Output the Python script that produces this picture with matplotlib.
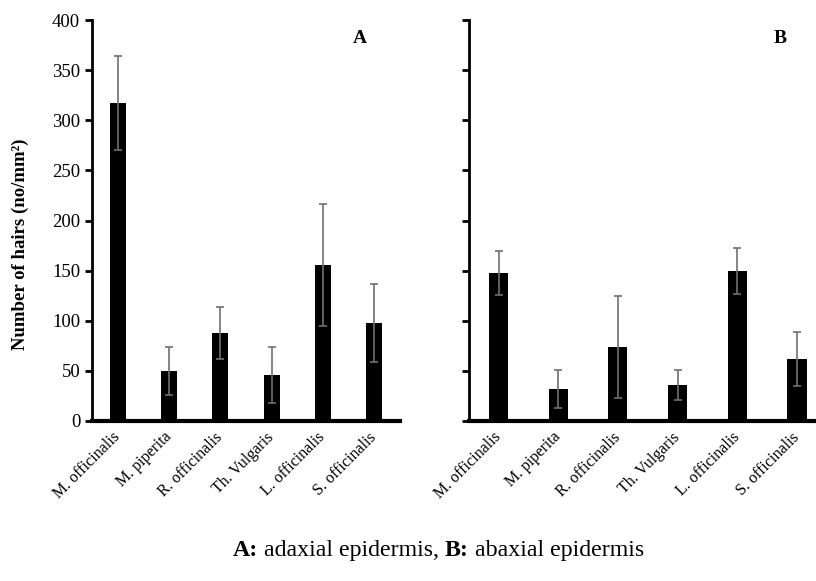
import numpy as np
import matplotlib.pyplot as plt

species = ["M. officinalis", "M. piperita", "R. officinalis",
           "Th. Vulgaris", "L. officinalis", "S. officinalis"]
# A: adaxial epidermis
adaxial = [317, 50, 88, 46, 156, 98]
adaxial_err = [47, 24, 26, 28, 61, 39]
# B: abaxial epidermis
abaxial = [148, 32, 74, 36, 150, 62]
abaxial_err = [22, 19, 51, 15, 23, 27]

plt.rcParams['font.family'] = ['Liberation Serif', 'DejaVu Serif']

fig = plt.figure(figsize=(8.16, 5.81), dpi=100)
axA = fig.add_axes([0.1127, 0.2754, 0.3775, 0.690])
axB = fig.add_axes([0.5744, 0.2754, 0.4389, 0.690])

x = np.arange(len(species))
for ax, vals, errs, letter, bw in [(axA, adaxial, adaxial_err, "A", 0.31),
                                   (axB, abaxial, abaxial_err, "B", 0.32)]:
    ax.bar(x, vals, width=bw, color="black", zorder=2)
    ax.errorbar(x, vals, yerr=errs, fmt="none", ecolor="#707070",
                elinewidth=1.2, capsize=3, capthick=1.2, zorder=3)
    ax.set_xlim(-0.5, 5.5)
    ax.set_ylim(0, 400)
    ax.set_yticks(np.arange(0, 401, 50))
    ax.spines['top'].set_visible(False)
    ax.spines['right'].set_visible(False)
    ax.spines['left'].set_linewidth(2)
    ax.spines['bottom'].set_linewidth(3)
    ax.tick_params(axis='y', direction='out', length=5, width=2, labelsize=13.5)
    ax.tick_params(axis='x', length=0, pad=10)
    ax.set_xticks(x)
    ax.set_xticklabels(species, rotation=45, ha='right', va='center',
                       rotation_mode='anchor', fontsize=11.5)
    ax.text(0.87, 0.955, letter, transform=ax.transAxes, fontsize=14,
            fontweight='bold', ha='center', va='center')

axB.tick_params(axis='y', labelleft=False)
axA.set_ylabel("Number of hairs (no/mm²)", fontsize=13.5, fontweight='bold')
axA.yaxis.set_label_coords(-0.203, 0.44)

# caption built from pieces so the bold parts stay in the serif font
parts = [("A:", "bold"), (" adaxial epidermis, ", "normal"),
         ("B:", "bold"), (" abaxial epidermis", "normal")]
prev = fig.text(0.285, 0.043, parts[0][0], fontsize=17.2, fontweight=parts[0][1],
                ha='left', va='baseline')
for txt, wt in parts[1:]:
    prev = axA.annotate(txt, xy=(1, 0), xycoords=prev, fontsize=17.2,
                        fontweight=wt, ha='left', va='bottom',
                        annotation_clip=False)

fig.savefig("out.png", dpi=100)
